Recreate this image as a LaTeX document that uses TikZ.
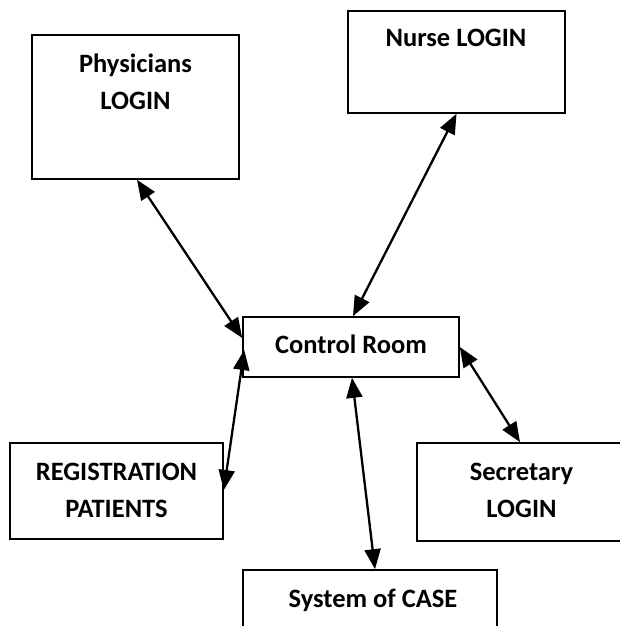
\documentclass[tikz,border=0pt]{standalone}
\usepackage{fontspec}
\setmainfont{Carlito}
\usetikzlibrary{arrows.meta,calc}
\tikzset{
  box/.style={draw=black, line width=1.6pt, rectangle, inner sep=0pt},
  txt/.style={font=\fontsize{26.5}{37}\selectfont\bfseries, inner sep=0pt, anchor=base},
  link/.style={line width=2.3pt, {Triangle[length=20pt,width=16pt]}-{Triangle[length=20pt,width=16pt]}}
}
\begin{document}
\begin{tikzpicture}[x=1pt,y=-1pt]
\useasboundingbox (0,0) rectangle (619,626);
% boxes
\node[box, minimum width=207, minimum height=144] (phys) at (135.5,107) {};
\node[box, minimum width=217, minimum height=102] (nurse) at (456.5,62) {};
\node[box, minimum width=216, minimum height=60] (ctrl) at (351,347) {};
\node[box, minimum width=213, minimum height=96] (reg) at (116.5,491) {};
\node[box, minimum width=209, minimum height=98] (sec) at (521.5,492) {};
\node[box, minimum width=254, minimum height=80] (sys) at (370,610) {};
% texts
\node[txt] (physA) at (135.5,72) {Physicians};
\node[txt] (physB) at (135.5,109) {LOGIN};
\node[txt] (nurseT) at (456,47) {Nurse LOGIN};
\node[txt] (ctrlT) at (351,353) {Control Room};
\node[txt] (regA) at (116.5,480) {REGISTRATION};
\node[txt] (regB) at (116.5,517) {PATIENTS};
\node[txt] (secA) at (521.5,480) {Secretary};
\node[txt] (secB) at (521.5,517) {LOGIN};
\node[txt] (sysT) at (373,607) {System of CASE};
% connectors
\draw[link] ($(phys.south)+(1.5,0)$) -- ($(ctrl.west)+(0,-9)$);
\draw[link] (nurse.south) -- ($(ctrl.north)+(2,0)$);
\draw[link] ($(reg.east)+(0,-1)$) -- ($(ctrl.west)+(2,3)$);
\draw[link] (ctrl.east) -- ($(sec.north)+(-1.5,0)$);
\draw[link] ($(ctrl.south)+(1,0)$) -- ($(sys.north)+(5,0)$);
\end{tikzpicture}
\end{document}
